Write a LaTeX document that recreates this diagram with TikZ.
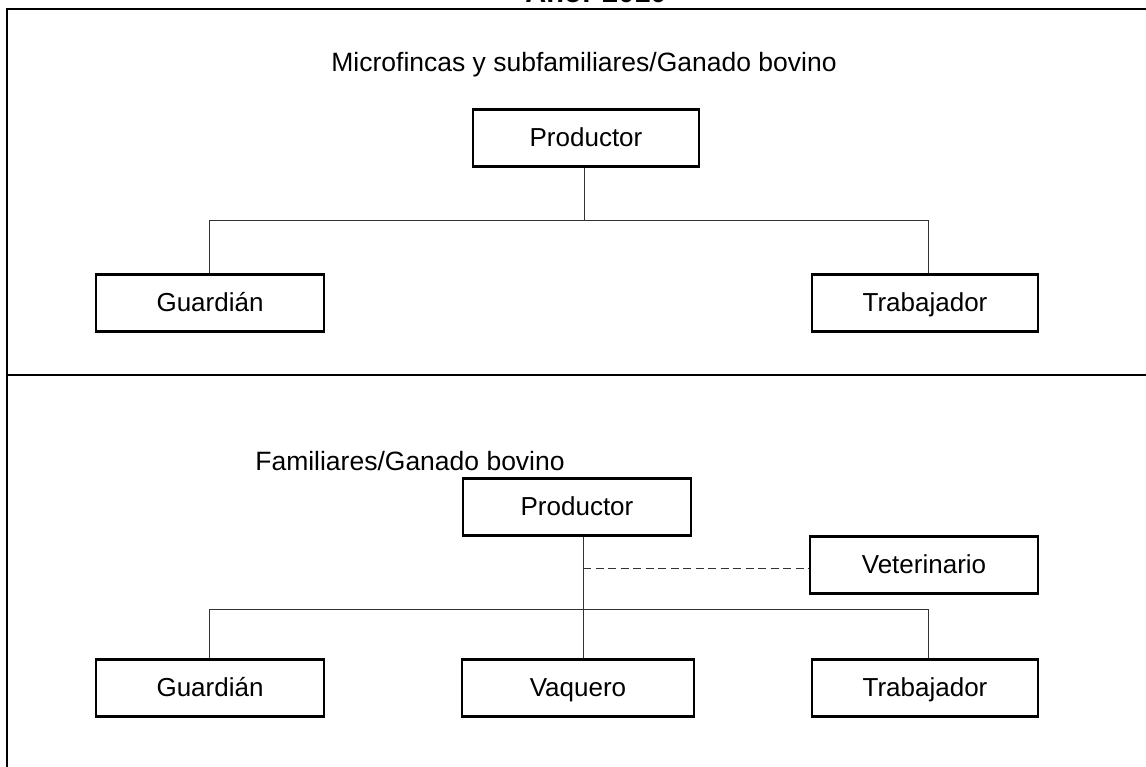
\documentclass[tikz,border=0pt]{standalone}
\usepackage{fontspec}
\setmainfont{Liberation Sans}
\begin{document}
\begin{tikzpicture}[x=1pt,y=-1pt,
  box/.style={draw=black, line width=2.2pt, rectangle, inner sep=0pt, minimum height=57pt, text height=22pt, text depth=5pt, font=\fontsize{26}{30}\selectfont},
  conn/.style={draw=black!80, line width=1pt},
  dashconn/.style={draw=black!80, line width=1pt, dash pattern=on 8pt off 4.5pt},
  frame/.style={draw=black, line width=1.6pt},
  lbl/.style={font=\fontsize{26.5}{30}\selectfont, anchor=base, inner sep=0pt}]
\useasboundingbox (0,0) rectangle (1146,767);
\clip (0,0) rectangle (1146,767);
% title (cut off at the top)
\node[anchor=base, inner sep=0pt, font=\fontsize{29}{32}\selectfont\bfseries] (title) at (596,3) {Año: 2010};
% frame
\draw[frame] (7,767) -- (7,9) -- (1146,9);
\draw[frame] (7,375) -- (1146,375);
% top section
\node[lbl] (lab1) at (584,72) {Microfincas y subfamiliares/Ganado bovino};
\node[box, minimum width=226pt] (prod1) at (586,138) {Productor};
\node[box, minimum width=228pt] (guard1) at (210,303) {Guardián};
\node[box, minimum width=226pt] (trab1) at (925,303) {Trabajador};
\coordinate (j1) at (584,221);
\draw[conn] (prod1.south -| j1) -- (j1);
\draw[conn] (guard1.north -| 209,0) -- (209,221) -- (928,221) -- (trab1.north -| 928,0);
% bottom section
\node[lbl] (lab2) at (410,470) {Familiares/Ganado bovino};
\node[box, minimum width=228pt] (prod2) at (577,507) {Productor};
\node[box, minimum width=228pt] (vet) at (924,565) {Veterinario};
\node[box, minimum width=228pt] (guard2) at (210,688) {Guardián};
\node[box, minimum width=232pt] (vaq) at (578,688) {Vaquero};
\node[box, minimum width=226pt] (trab2) at (925,688) {Trabajador};
\coordinate (j2) at (583,609);
\coordinate (d2) at (583,568);
\draw[conn] (prod2.south -| j2) -- (vaq.north -| j2);
\draw[dashconn] (d2) -- (vet.west |- d2);
\draw[conn] (guard2.north -| 209,0) -- (209,609) -- (928,609) -- (trab2.north -| 928,0);
\end{tikzpicture}
\end{document}
